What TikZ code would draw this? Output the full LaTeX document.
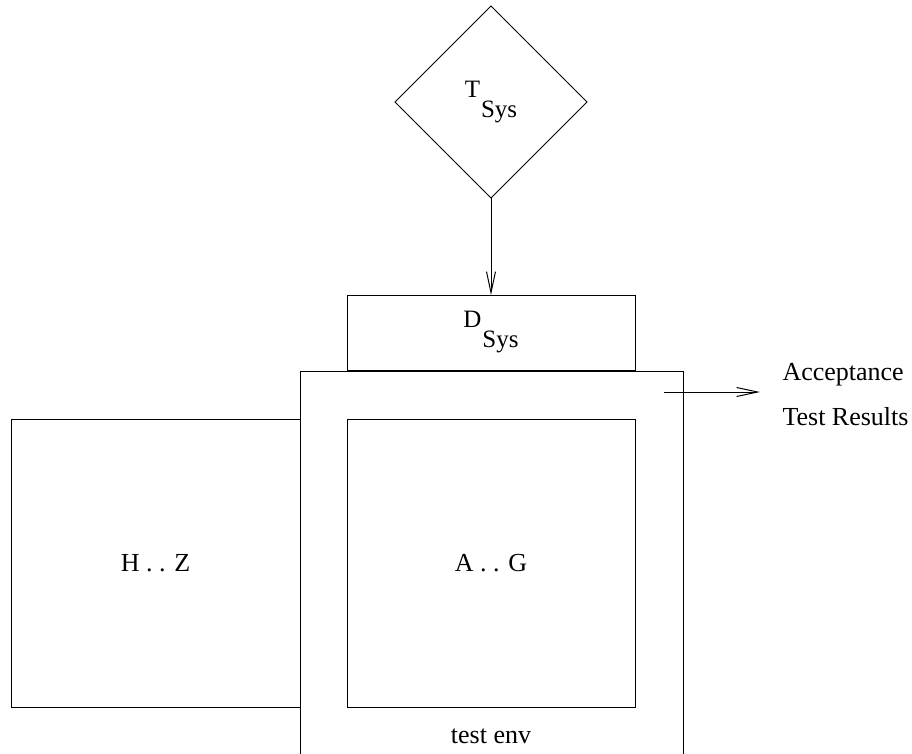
\documentclass[tikz,border=0pt]{standalone}
\usepackage{fontspec}
\setmainfont{Liberation Serif}
\usetikzlibrary{shapes.geometric,arrows.meta}
\begin{document}
\begin{tikzpicture}[x=1pt,y=-1pt,line width=1pt,
  blk/.style={draw,rectangle,inner sep=0pt,outer sep=0pt,font=\fontsize{26}{31}\selectfont},
  sub/.style={font=\fontsize{25}{30}\selectfont},
  lbl/.style={inner sep=0pt,font=\fontsize{26}{31}\selectfont},
  flow/.style={-{Straight Barb[length=21pt,width=9pt,line width=1pt]}}]
\useasboundingbox (0,0) rectangle (912,754);

% system under test: diamond on top, driver box below
\node[draw,diamond,minimum width=192pt,minimum height=192pt,inner sep=0pt,outer sep=0pt,sub]
  (tsys) at (491,102) {T\kern1pt\raisebox{-20pt}{Sys}};
\node[blk,sub,minimum width=288pt,minimum height=75pt] (dsys) at (491,332.5) {D\kern1pt\raisebox{-20pt}{Sys}};
\draw[flow] (tsys.south) -- (dsys.north);

% test environment frame, open at the bottom
\node[rectangle,inner sep=0pt,outer sep=0pt,minimum width=383pt,minimum height=384pt] (env) at (491.5,563) {};
\draw (env.south west) -- (env.north west) -- (env.north east) -- (env.south east);
\node[lbl,anchor=base] (envlabel) at (491,743) {test env};

% components inside and outside the environment
\node[blk,minimum width=288pt,minimum height=288pt] (ag) at (491,563) {A . . G};
\node[blk,minimum width=289pt,minimum height=288pt] (hz) at (155.5,563) {H . . Z};

% results leaving the environment
\coordinate (out) at (664,392);
\coordinate (res) at (760,392);
\draw[flow] (out) -- (res);
\node[lbl,anchor=base west] (acc) at (782,380) {Acceptance};
\node[lbl,anchor=base west] (tres) at (782,425) {Test Results};
\end{tikzpicture}
\end{document}
